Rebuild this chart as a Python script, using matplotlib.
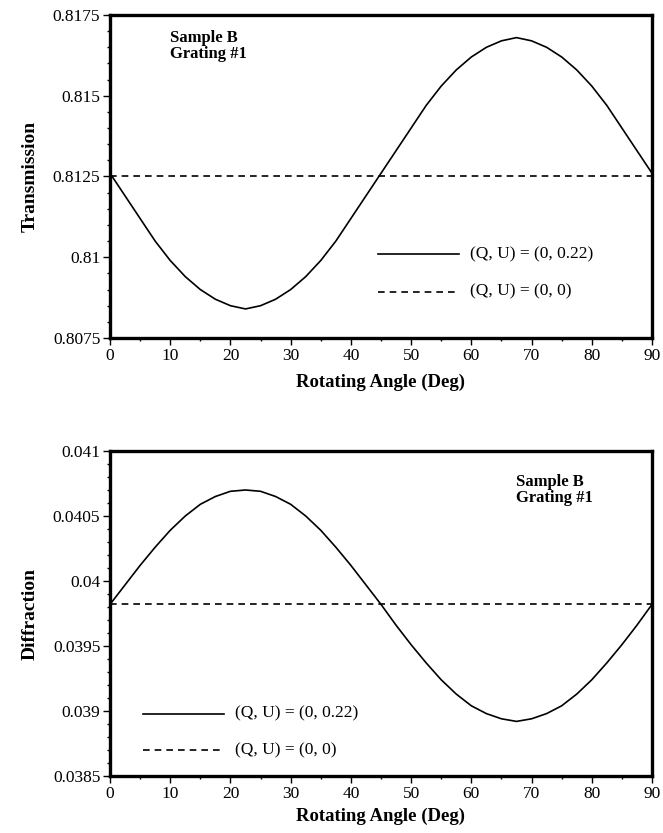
import matplotlib
matplotlib.use("Agg")
import matplotlib.pyplot as plt
from matplotlib.ticker import MultipleLocator, FixedLocator, FixedFormatter

plt.rcParams['font.family'] = ['Liberation Serif', 'DejaVu Serif']

angle = [0, 2.5, 5, 7.5, 10, 12.5, 15, 17.5, 20, 22.5, 25, 27.5, 30, 32.5, 35, 37.5, 40, 42.5,
         45, 47.5, 50, 52.5, 55, 57.5, 60, 62.5, 65, 67.5, 70, 72.5, 75, 77.5, 80, 82.5, 85, 87.5, 90]

transmission = [0.8126, 0.8119, 0.8112, 0.8105, 0.8099, 0.8094, 0.8090, 0.8087, 0.8085, 0.8084,
                0.8085, 0.8087, 0.8090, 0.8094, 0.8099, 0.8105, 0.8112, 0.8119, 0.8126, 0.8133,
                0.8140, 0.8147, 0.8153, 0.8158, 0.8162, 0.8165, 0.8167, 0.8168, 0.8167, 0.8165,
                0.8162, 0.8158, 0.8153, 0.8147, 0.8140, 0.8133, 0.8126]
transmission_ref = [0.8125, 0.8125]

diffraction = [0.03982, 0.03997, 0.04012, 0.04026, 0.04039, 0.04050, 0.04059, 0.04065, 0.04069,
               0.04070, 0.04069, 0.04065, 0.04059, 0.04050, 0.04039, 0.04026, 0.04012, 0.03997,
               0.03982, 0.03966, 0.03951, 0.03937, 0.03924, 0.03913, 0.03904, 0.03898, 0.03894,
               0.03892, 0.03894, 0.03898, 0.03904, 0.03913, 0.03924, 0.03937, 0.03951, 0.03966,
               0.03982]
diffraction_ref = [0.03982, 0.03982]
ref_angle = [0, 90]

t_ticks = [0.8075, 0.81, 0.8125, 0.815, 0.8175]
t_labels = ["0.8075", "0.81", "0.8125", "0.815", "0.8175"]
d_ticks = [0.0385, 0.039, 0.0395, 0.04, 0.0405, 0.041]
d_labels = ["0.0385", "0.039", "0.0395", "0.04", "0.0405", "0.041"]
x_ticks = [0, 10, 20, 30, 40, 50, 60, 70, 80, 90]

label_solid = "(Q, U) = (0, 0.22)"
label_dash = "(Q, U) = (0, 0)"

W, H = 663, 833
fig = plt.figure(figsize=(W / 100, H / 100), dpi=100)

def ax_rect(x0, x1, ytop, ybot):
    return [x0 / W, 1 - ybot / H, (x1 - x0) / W, (ybot - ytop) / H]

ax1 = fig.add_axes(ax_rect(110, 652, 15, 338))
ax2 = fig.add_axes(ax_rect(110, 652, 451, 776))

def style(ax, yt, yl, yminor, ylim):
    ax.set_xlim(0, 90)
    ax.set_ylim(*ylim)
    for s in ax.spines.values():
        s.set_linewidth(2.4)
    ax.yaxis.set_major_locator(FixedLocator(yt))
    ax.yaxis.set_major_formatter(FixedFormatter(yl))
    ax.yaxis.set_minor_locator(MultipleLocator(yminor))
    ax.xaxis.set_major_locator(FixedLocator(x_ticks))
    ax.xaxis.set_minor_locator(MultipleLocator(5))
    ax.tick_params(which='both', direction='out', top=False, right=False, width=1.0, labelsize=12.5)
    ax.tick_params(which='major', length=5, pad=2)
    ax.tick_params(which='minor', length=2.5)

dash = (0, (4, 3))

ax1.plot(angle, transmission, color='black', lw=1.2)
ax1.plot(ref_angle, transmission_ref, color='black', lw=1.2, linestyle=dash)
style(ax1, t_ticks, t_labels, 0.0005, (0.8075, 0.8175))
ax1.set_xlabel("Rotating Angle (Deg)", fontsize=13.5, fontweight='bold', labelpad=7)
ax1.set_ylabel("Transmission", fontsize=14, fontweight='bold', labelpad=10)
ax1.text(10, 0.81705, "Sample B\nGrating #1", fontsize=12, fontweight='bold', va='top', linespacing=1.0)
ax1.plot([44.5, 58.0], [0.81010, 0.81010], color='black', lw=1.2)
ax1.plot([44.5, 58.0], [0.80893, 0.80893], color='black', lw=1.2, linestyle=dash)
ax1.text(59.8, 0.81010, label_solid, fontsize=12.5, va='center')
ax1.text(59.8, 0.80893, label_dash, fontsize=12.5, va='center')

ax2.plot(angle, diffraction, color='black', lw=1.2)
ax2.plot(ref_angle, diffraction_ref, color='black', lw=1.2, linestyle=dash)
style(ax2, d_ticks, d_labels, 0.0001, (0.0385, 0.041))
ax2.set_xlabel("Rotating Angle (Deg)", fontsize=13.5, fontweight='bold', labelpad=4)
ax2.set_ylabel("Diffraction", fontsize=14, fontweight='bold', labelpad=10)
ax2.text(67.5, 0.04082, "Sample B\nGrating #1", fontsize=12, fontweight='bold', va='top', linespacing=1.0)
ax2.plot([5.5, 19.0], [0.03898, 0.03898], color='black', lw=1.2)
ax2.plot([5.5, 19.0], [0.03870, 0.03870], color='black', lw=1.2, linestyle=dash)
ax2.text(20.8, 0.03898, label_solid, fontsize=12.5, va='center')
ax2.text(20.8, 0.03870, label_dash, fontsize=12.5, va='center')

fig.savefig("out.png", dpi=100)
